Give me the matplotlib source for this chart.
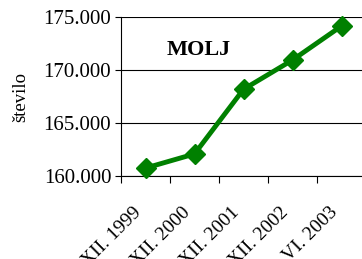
import matplotlib.pyplot as plt
from matplotlib.ticker import FuncFormatter
from matplotlib.transforms import ScaledTranslation

periods = ['XII. 1999', 'XII. 2000', 'XII. 2001', 'XII. 2002', 'VI. 2003']
stevilo = [160750, 162080, 168180, 170940, 174150]

plt.rcParams['font.family'] = ['Liberation Serif', 'DejaVu Serif']

fig = plt.figure(figsize=(3.62, 2.59), dpi=100)
ax = fig.add_axes([121/362, 1 - 176/259, 245/362, 159/259])

x = list(range(len(periods)))
ax.plot(x, stevilo, color='#008000', lw=3.5, marker='D', ms=10.5, clip_on=False, zorder=3)

ax.set_xlim(-0.5, len(periods) - 0.5)
ax.set_ylim(160000, 175000)
ax.set_yticks([160000, 165000, 170000, 175000])
ax.yaxis.set_major_formatter(FuncFormatter(lambda v, p: f'{v:,.0f}'.replace(',', '.')))
ax.yaxis.grid(True, color='black', lw=0.8)
ax.set_axisbelow(True)

# category boundaries get the tick marks
ax.set_xticks([i - 0.5 for i in range(len(periods) + 1)])
ax.set_xticklabels([])
ax.set_xticks(x, minor=True)
ax.set_xticklabels(periods, minor=True, rotation=45, ha='right', va='top', rotation_mode='anchor')
ax.tick_params(axis='x', which='minor', length=0, pad=20, labelsize=14)
ax.tick_params(axis='x', which='major', length=5, width=0.8)
ax.tick_params(axis='y', length=4, width=0.8, labelsize=15, pad=3)
shift = ScaledTranslation(-9/72, 0, fig.dpi_scale_trans)
for lab in ax.get_xticklabels(minor=True):
    lab.set_transform(lab.get_transform() + shift)

ax.spines['top'].set_visible(False)
ax.spines['right'].set_visible(False)

ax.text(0.188, 0.76, 'MOLJ', transform=ax.transAxes, fontsize=16, fontweight='bold')
ax.set_ylabel('število', fontsize=13.5)
ax.yaxis.set_label_coords(-0.375, 0.5)

fig.savefig('out.png', dpi=100)
